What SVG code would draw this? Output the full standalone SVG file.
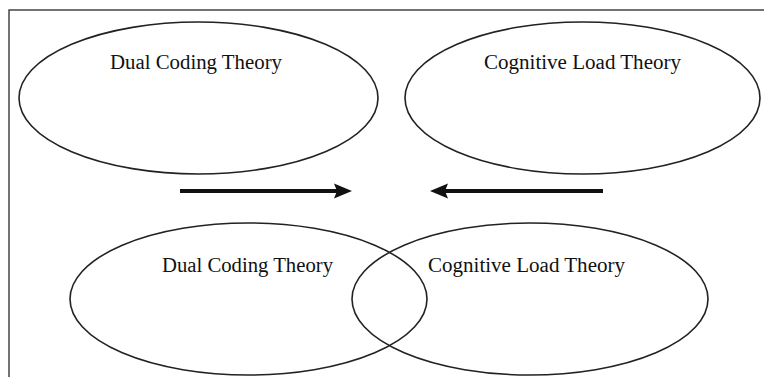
<svg xmlns="http://www.w3.org/2000/svg" width="764" height="377" viewBox="0 0 764 377">
<style>
.e{fill:none;stroke:#222;stroke-width:1.6}
.t{font-family:"Liberation Serif","Times New Roman",serif;font-size:20.5px;fill:#111}
.a{stroke:#111;stroke-width:4;fill:none}
.h{fill:#111;stroke:none}
.b{stroke:#444;stroke-width:1.5;fill:none}
</style>
<rect width="764" height="377" fill="#fff"/>
<g id="frame"><path class="b" d="M9 377V10H764"/></g>
<g id="dual-top"><ellipse class="e" cx="198.5" cy="98" rx="179.5" ry="76"/><text class="t" x="110" y="69" textLength="172" lengthAdjust="spacingAndGlyphs">Dual Coding Theory</text></g>
<g id="cog-top"><ellipse class="e" cx="582.5" cy="98" rx="177.5" ry="76"/><text class="t" x="484" y="69" textLength="197" lengthAdjust="spacingAndGlyphs">Cognitive Load Theory</text></g>
<g id="dual-bottom"><ellipse class="e" cx="248.5" cy="299" rx="178.5" ry="76"/><text class="t" x="162" y="272" textLength="171" lengthAdjust="spacingAndGlyphs">Dual Coding Theory</text></g>
<g id="cog-bottom"><ellipse class="e" cx="530" cy="299" rx="178" ry="76"/><text class="t" x="428" y="272" textLength="197" lengthAdjust="spacingAndGlyphs">Cognitive Load Theory</text></g>
<g id="connectors">
<line class="a" x1="180" y1="191" x2="340" y2="191"/>
<path class="h" d="M352 191L334 183.5L337 191L334 198.5Z"/>
<line class="a" x1="442" y1="191" x2="603" y2="191"/>
<path class="h" d="M430 191L448 183.5L445 191L448 198.5Z"/>
</g>
</svg>
